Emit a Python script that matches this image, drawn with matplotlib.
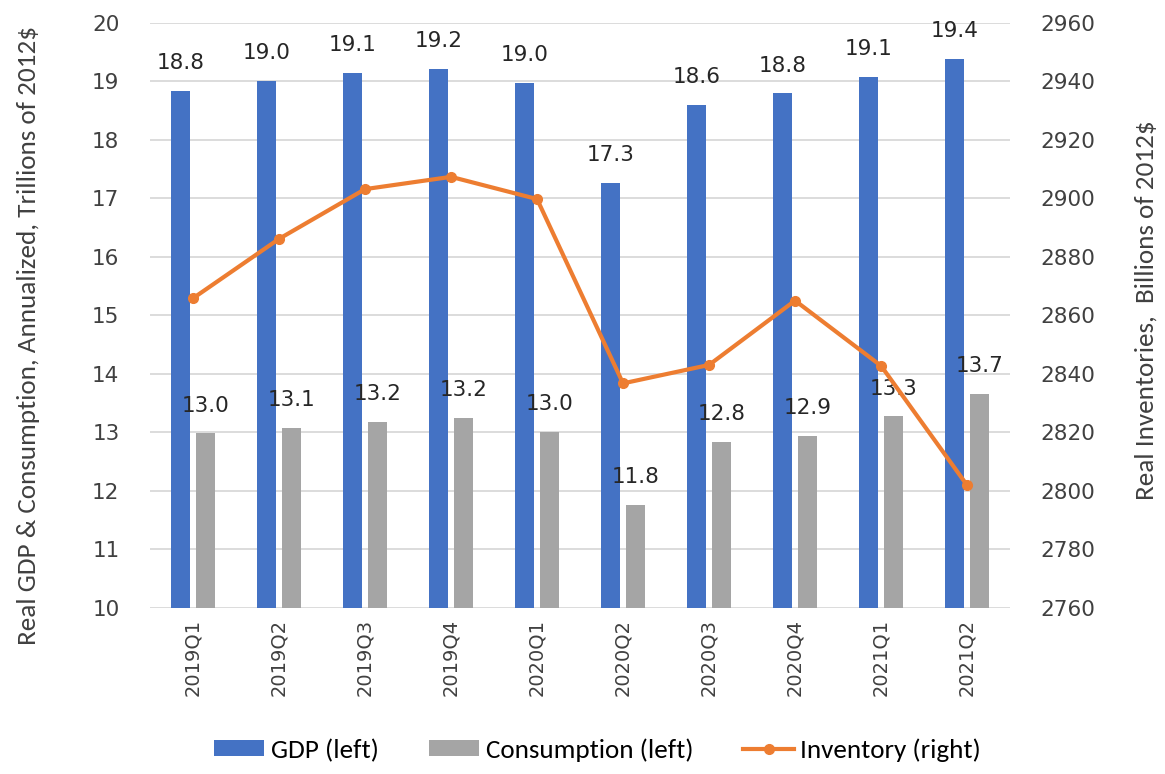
import matplotlib
matplotlib.use("Agg")
import matplotlib.pyplot as plt
import numpy as np

# data
quarters = ["2019Q1", "2019Q2", "2019Q3", "2019Q4", "2020Q1",
            "2020Q2", "2020Q3", "2020Q4", "2021Q1", "2021Q2"]
gdp = [18.83, 19.00, 19.14, 19.21, 18.97, 17.26, 18.59, 18.79, 19.07, 19.38]
consumption = [12.98, 13.08, 13.18, 13.25, 13.01, 11.76, 12.83, 12.94, 13.27, 13.66]
inventory = [2865.8, 2886.1, 2903.1, 2907.3, 2899.7, 2836.7, 2843.0, 2865.0, 2842.7, 2801.9]

blue = "#4472C4"
gray = "#A5A5A5"
orange = "#ED7D31"
narrow = ["Carlito", "DejaVu Sans"]

plt.rcParams["font.family"] = ["DejaVu Sans"]

fig = plt.figure(figsize=(11.65, 7.74), dpi=100)
ax = fig.add_axes([0.1288, 0.2148, 0.7382, 0.7559])
ax2 = ax.twinx()

x = np.arange(len(quarters))
w = 0.22
off = 0.145
b1 = ax.bar(x - off, gdp, w, color=blue, label="GDP (left)", zorder=3)
b2 = ax.bar(x + off, consumption, w, color=gray, label="Consumption (left)", zorder=3)

for xi, v in zip(x - off, gdp):
    ax.annotate(f"{v:.1f}", (xi, v), xytext=(0, 20), textcoords="offset points",
                ha="center", va="center", fontsize=15.5, color="#262626", zorder=5)
for xi, v in zip(x + off, consumption):
    ax.annotate(f"{v:.1f}", (xi, v), xytext=(0, 20), textcoords="offset points",
                ha="center", va="center", fontsize=15.5, color="#262626", zorder=5)

ax.set_ylim(10, 20)
ax.set_yticks(range(10, 21))
ax.set_xlim(-0.5, len(quarters) - 0.5)
ax.set_xticks(x)
ax.set_xticklabels(quarters, rotation=90, fontsize=14, color="#404040")
ax.tick_params(axis="y", labelsize=15.5, labelcolor="#404040", length=0, pad=22)
ax.tick_params(axis="x", length=0, pad=8)
ax.grid(axis="y", color="#d9d9d9", linewidth=1.3, zorder=0)
ax.set_axisbelow(True)

ln, = ax2.plot(x, inventory, color=orange, linewidth=3, marker="o", markersize=7,
               label="Inventory (right)", zorder=4)
ax2.set_ylim(2760, 2960)
ax2.set_yticks(range(2760, 2961, 20))
ax2.tick_params(axis="y", labelsize=15.5, labelcolor="#404040", length=0, pad=22)

for a in (ax, ax2):
    for s in a.spines.values():
        s.set_visible(False)

ax.set_ylabel("Real GDP & Consumption, Annualized, Trillions of 2012$",
              family=narrow, fontsize=19.5, color="#404040")
ax.yaxis.set_label_coords(-0.128, 0.466)
ax2.set_ylabel("Real Inventories,  Billions of 2012$",
               family=narrow, fontsize=19.5, color="#404040")
ax2.yaxis.set_label_coords(1.145, 0.509)

fig.legend(handles=[b1, b2, ln], loc="center", bbox_to_anchor=(0.513, 0.031),
           ncol=3, frameon=False, prop={"family": narrow, "size": 19.5},
           handlelength=1.85, handleheight=0.55, columnspacing=1.85, handletextpad=0.25)

fig.savefig("out.png", dpi=100)
